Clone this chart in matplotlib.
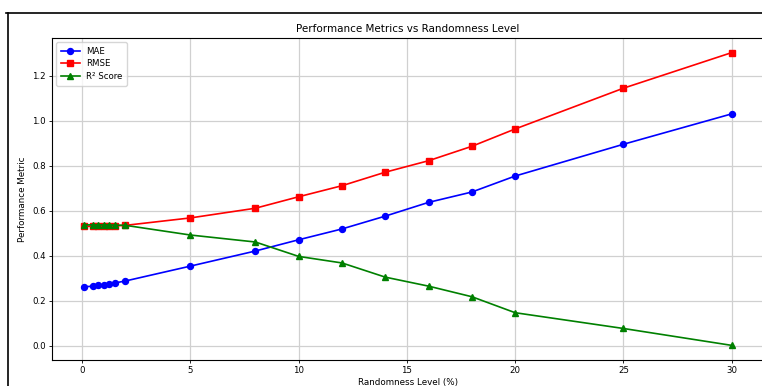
import numpy as np
import matplotlib.pyplot as plt
from matplotlib.lines import Line2D

# Data
randomness = [0.1, 0.5, 0.75, 1, 1.25, 1.5, 2, 5, 8, 10, 12, 14, 16, 18, 20, 25, 30]
mae = [0.262, 0.265, 0.268, 0.272, 0.275, 0.279, 0.288, 0.354, 0.421, 0.471, 0.519,
       0.576, 0.637, 0.683, 0.754, 0.895, 1.030]
rmse = [0.530, 0.531, 0.531, 0.532, 0.532, 0.533, 0.535, 0.568, 0.611, 0.662, 0.711,
        0.771, 0.822, 0.886, 0.963, 1.144, 1.302]
r2 = [0.537, 0.537, 0.537, 0.537, 0.537, 0.536, 0.535, 0.492, 0.461, 0.397, 0.368,
      0.305, 0.265, 0.218, 0.147, 0.077, 0.002]

W, H = 762, 386
fig = plt.figure(figsize=(W / 100, H / 100), dpi=100)
ax = fig.add_axes([52 / W, 1 - 360 / H, (764 - 52) / W, (360 - 38) / H])

ax.plot(randomness, mae, marker='o', color='blue', label='MAE', markersize=4.3, linewidth=1.2)
ax.plot(randomness, rmse, marker='s', color='red', label='RMSE', markersize=4.3, linewidth=1.2)
ax.plot(randomness, r2, marker='^', color='green', label='R² Score', markersize=4.3, linewidth=1.2)

ax.set_title('Performance Metrics vs Randomness Level', fontsize=7.5, pad=4)
ax.set_xlabel('Randomness Level (%)', fontsize=6.3, labelpad=2)
ax.set_ylabel('Performance Metric', fontsize=6.3, labelpad=4)
ax.tick_params(labelsize=6.2, length=2.5, width=0.6, pad=2)
ax.grid(True, color='#d0d0d0', linewidth=0.9)
for s in ax.spines.values():
    s.set_linewidth(0.8)
ax.legend(loc='upper left', fontsize=6.2, handlelength=2.2, borderpad=0.5, labelspacing=0.45)

# border of the original screenshot frame
fig.add_artist(Line2D([8 / W, 8 / W], [0, 1 - 13 / H], color='black', linewidth=1.2))
fig.add_artist(Line2D([6 / W, 1], [1 - 13 / H, 1 - 13 / H], color='black', linewidth=1.2))

fig.savefig('out.png', dpi=100)
